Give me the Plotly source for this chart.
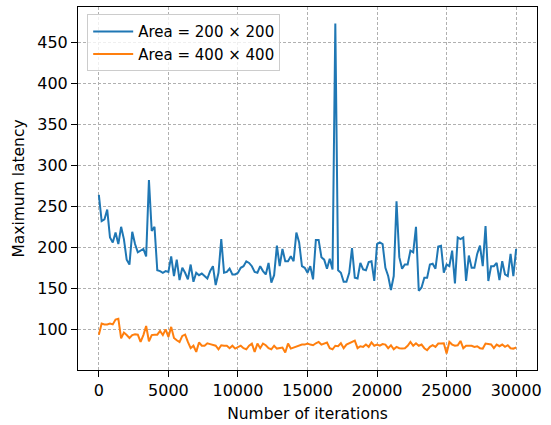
import plotly.graph_objects as go

iterations = list(range(0, 30001, 200))

area_200 = [
    264, 232, 234, 246, 212, 206, 218, 204, 225, 210,
    185, 179, 219, 204, 194, 196, 198, 189, 282, 220,
    225, 172, 171, 169, 171, 170, 189, 165, 185, 160,
    175, 169, 161, 179, 158, 169, 166, 168,
    165, 162, 171, 177, 154, 169, 210, 169, 170, 174,
    167, 167, 169, 175, 177, 183, 181, 177, 170, 169,
    177, 171, 167, 181, 157, 166, 202, 177, 198, 183,
    183, 189, 183, 218, 206, 177, 175, 169,
    177, 161, 209, 209, 188, 185, 174, 186, 173, 473,
    172, 169, 158, 158, 169, 199, 163, 162, 181, 173,
    172, 182, 183, 159, 204, 206, 204, 175, 165, 148,
    165, 256, 188, 174, 179, 179, 196, 194,
    225, 147, 151, 163, 163, 179, 180, 174, 201, 202,
    169, 179, 177, 196, 156, 212, 210, 212, 159, 190,
    175, 175, 192, 202, 177, 226, 159, 177, 177, 181,
    160, 183, 167, 165, 192, 165, 198,
]

area_400 = [
    93.5, 107, 106, 106, 107, 106, 112, 113, 89, 96,
    93, 89.5, 93, 94, 93.5, 84.6, 93, 104, 85.4, 93,
    93.5, 93.5, 98, 93, 100, 90.7, 103, 89.5, 86.7, 84.6,
    92, 93.5, 84.6, 77, 80, 72.5, 84, 80, 80, 83,
    82, 80.6, 80, 75.7, 80.6, 80, 80, 77, 80, 76.5,
    78.6, 80, 77, 75.7, 80, 82.6, 72.5, 82.6, 77, 82.6,
    80.6, 77, 75.7, 80, 76.5, 77, 77.8, 71.7, 82.6, 76.5,
    77.8, 78.6, 80, 81.4, 81.4, 82.6,
    81.4, 80.6, 83, 84.6, 81.4, 83, 84, 77, 75.7, 80,
    79.4, 83, 77, 81.4, 83, 84, 86.3, 77, 79.4, 78.6,
    81.4, 78.6, 84, 80, 81.4, 80, 82, 81.4, 77, 80.6,
    75.7, 78.6, 77, 76.5, 77, 80, 84.6, 80, 83, 80,
    81.4, 77, 74.5, 78.6, 80.6, 78.6, 82.6, 82.6, 83, 70.5,
    84.6, 81.4, 80, 80.6, 85.8, 77, 80, 80, 80, 78.6,
    79.4, 77, 76.5, 82.6, 82, 81.6, 77, 81.4, 79.4, 81.4,
    78.6, 80.6, 77, 76.5, 77.8,
]

x_ticks = [0, 5000, 10000, 15000, 20000, 25000, 30000]
y_ticks = [100, 150, 200, 250, 300, 350, 400, 450]

font = "DejaVu Sans"

fig = go.Figure()
fig.add_trace(go.Scatter(x=iterations, y=area_200, mode="lines",
                         name="Area = 200 × 200",
                         line=dict(color="#1f77b4", width=2)))
fig.add_trace(go.Scatter(x=iterations, y=area_400, mode="lines",
                         name="Area = 400 × 400",
                         line=dict(color="#ff7f0e", width=2)))

axis_common = dict(
    showline=True, mirror=True, linecolor="black", linewidth=1,
    ticks="outside", ticklen=6, tickwidth=1, tickcolor="black",
    showgrid=True, gridcolor="#b0b0b0", gridwidth=0.8, griddash="3px,2px",
    zeroline=False, tickfont=dict(family=font, size=16, color="black"),
)

fig.update_layout(
    width=551, height=425,
    margin=dict(l=78, r=14, t=6, b=54),
    paper_bgcolor="white", plot_bgcolor="white",
    font=dict(family=font, size=16, color="black"),
    xaxis=dict(range=[-1500, 31500], tickvals=x_ticks,
               ticktext=[str(v) for v in x_ticks],
               title=dict(text="Number of iterations", font=dict(size=15.5), standoff=8),
               **axis_common),
    yaxis=dict(range=[50.4, 493.1], tickvals=y_ticks,
               ticktext=[str(v) for v in y_ticks],
               title=dict(text="Maximum latency", font=dict(size=15.5), standoff=8),
               **axis_common),
    legend=dict(x=0.02, y=0.98, xanchor="left", yanchor="top",
                bgcolor="rgba(255,255,255,0.8)", bordercolor="#cccccc", borderwidth=1,
                font=dict(family=font, size=15), tracegroupgap=0,
                itemwidth=40),
    showlegend=True,
)

fig.write_html("out.html")
